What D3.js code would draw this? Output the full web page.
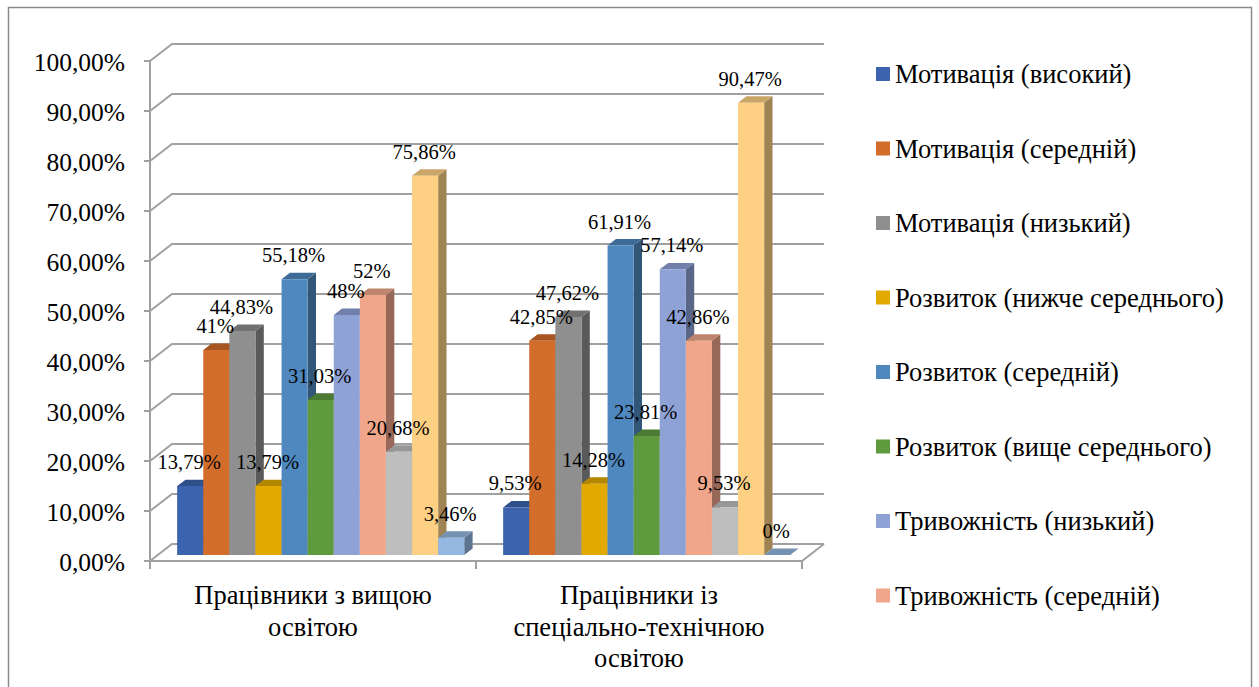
<!DOCTYPE html>
<html>
<head>
<meta charset="utf-8">
<script src="https://cdn.jsdelivr.net/npm/d3@7"></script>
<style>
  body { margin: 0; background: #fff; }
  svg { display: block; }
  svg text { font-family: "Liberation Serif", "Times New Roman", Times, serif; fill: #000; }
</style>
</head>
<body>
<svg id="chart" width="1259" height="687"></svg>
<script>
// ---- data ----
const categories = ["Працівники з вищою освітою", "Працівники із спеціально-технічною освітою"];
const categoryLines = [
  ["Працівники з вищою", "освітою"],
  ["Працівники із", "спеціально-технічною", "освітою"]
];
const seriesNames = [
  "Мотивація (високий)",
  "Мотивація (середній)",
  "Мотивація (низький)",
  "Розвиток (нижче середнього)",
  "Розвиток (середній)",
  "Розвиток (вище середнього)",
  "Тривожність (низький)",
  "Тривожність (середній)",
  "Ряд 9",
  "Ряд 10",
  "Ряд 11"
];
const seriesColors = [
  "#3b63ae", "#d36d2b", "#8f8f8f", "#e2aa00", "#4f88bf", "#5f9a3f",
  "#8fa2d6", "#f0a68a", "#bebebe", "#fed083", "#94b8e1"
];
const higherEduValues = [13.79, 41, 44.83, 13.79, 55.18, 31.03, 48, 52, 20.68, 75.86, 3.46];
const technicalEduValues = [9.53, 42.85, 47.62, 14.28, 61.91, 23.81, 57.14, 42.86, 9.53, 90.47, 0];
const yTicks = [0, 10, 20, 30, 40, 50, 60, 70, 80, 90, 100];
const legendCount = 8;   // entries that fit in the legend box

const valuesByCategory = [higherEduValues, technicalEduValues];

// ---- layout ----
const svg = d3.select("#chart");
const DX = 22, DY = 17;          // depth offset of the back wall
const D1 = 0.35, D2 = 0.73;      // bar depth range (fraction of floor depth)

const y = d3.scaleLinear().domain([0, 100]).range([561, 61]);
const xCat = d3.scaleBand().domain(categories).range([150, 802]).padding(0);
const xSer = d3.scaleBand().domain(seriesNames).range([0, xCat.bandwidth()])
  .paddingInner(0).paddingOuter(0.745);
const color = d3.scaleOrdinal().domain(seriesNames).range(seriesColors);

const P = (x, v, d) => [x + d * DX, y(v) - d * DY];
const pts = arr => arr.map(p => p.join(",")).join(" ");
const GRID = "#a0a0a0";

// outer frame
svg.append("rect").attr("x", 8.5).attr("y", 7.5).attr("width", 1243).attr("height", 690)
  .attr("fill", "none").attr("stroke", "#8a8a8a").attr("stroke-width", 1.5);

// back wall gridlines and side wall diagonals
const [x0, x1] = xCat.range();
const grid = svg.append("g").attr("stroke", GRID).attr("stroke-width", 2).attr("fill", "none");
yTicks.forEach(t => {
  grid.append("polyline").attr("points", pts([P(x0, t, 0), P(x0, t, 1), P(x1, t, 1)]));
});
// vertical value axis line
grid.append("line").attr("x1", x0).attr("x2", x0).attr("y1", y(0)).attr("y2", y(100));
// floor: front edge and right edge
grid.append("polyline").attr("points", pts([P(x0, 0, 0), P(x1, 0, 0), P(x1, 0, 1)]));

// value axis ticks and labels
const yAxisG = svg.append("g");
yTicks.forEach(t => {
  yAxisG.append("line").attr("x1", x0 - 6).attr("x2", x0).attr("y1", y(t)).attr("y2", y(t))
    .attr("stroke", GRID).attr("stroke-width", 2);
  yAxisG.append("text").attr("x", 125).attr("y", y(t) + 1)
    .attr("text-anchor", "end").attr("dominant-baseline", "central")
    .attr("font-size", 25.5)
    .text(d3.format(".2f")(t).replace(".", ",") + "%");
});

// category axis ticks
const catTicks = [x0, ...categories.map(c => xCat(c) + xCat.bandwidth())];
catTicks.forEach(tx => {
  svg.append("line").attr("x1", tx).attr("x2", tx).attr("y1", y(0)).attr("y2", y(0) + 8)
    .attr("stroke", GRID).attr("stroke-width", 2);
});

// category labels
categories.forEach((c, i) => {
  const cx = xCat(c) + xCat.bandwidth() / 2;
  const t = svg.append("text").attr("text-anchor", "middle").attr("font-size", 26.5);
  categoryLines[i].forEach((line, j) => {
    t.append("tspan").attr("x", cx).attr("y", 604 + j * 31.5).text(line);
  });
});

// bars (left to right so each front face covers the previous side face)
const shade = (c, k) => d3.color(c).darker(k).formatHex();
const labels = [];
categories.forEach((c, ci) => {
  const vals = valuesByCategory[ci];
  seriesNames.forEach((s, si) => {
    const v = vals[si];
    const bx0 = xCat(c) + xSer(s);
    const bx1 = bx0 + xSer.bandwidth();
    const col = color(s);
    const g = svg.append("g");
    if (v > 0) {
      g.append("polygon").attr("fill", shade(col, 1.3))
        .attr("points", pts([P(bx1, 0, D1), P(bx1, 0, D2), P(bx1, v, D2), P(bx1, v, D1)]));
    }
    g.append("polygon").attr("fill", shade(col, 0.65))
      .attr("points", pts([P(bx0, v, D1), P(bx1, v, D1), P(bx1, v, D2), P(bx0, v, D2)]));
    if (v > 0) {
      g.append("polygon").attr("fill", col)
        .attr("points", pts([P(bx0, 0, D1), P(bx1, 0, D1), P(bx1, v, D1), P(bx0, v, D1)]));
    }
    const front = P((bx0 + bx1) / 2, v, D1);
    labels.push({ x: front[0] - 1, y: front[1] - 17, v });
  });
});

// data labels
const fmtVal = v => (Number.isInteger(v) ? String(v) : d3.format(".2f")(v).replace(".", ",")) + "%";
svg.append("g").selectAll("text").data(labels).join("text")
  .attr("x", d => d.x).attr("y", d => d.y)
  .attr("text-anchor", "middle").attr("font-size", 20.5)
  .text(d => fmtVal(d.v));

// legend
const legend = svg.append("g");
seriesNames.slice(0, legendCount).forEach((s, i) => {
  const cy = 74 + i * 74.5;
  legend.append("rect").attr("x", 876).attr("y", cy - 7).attr("width", 14).attr("height", 14)
    .attr("fill", color(s));
  legend.append("text").attr("x", 895).attr("y", cy + 9).attr("font-size", 26.5).text(s);
});
</script>
</body>
</html>
